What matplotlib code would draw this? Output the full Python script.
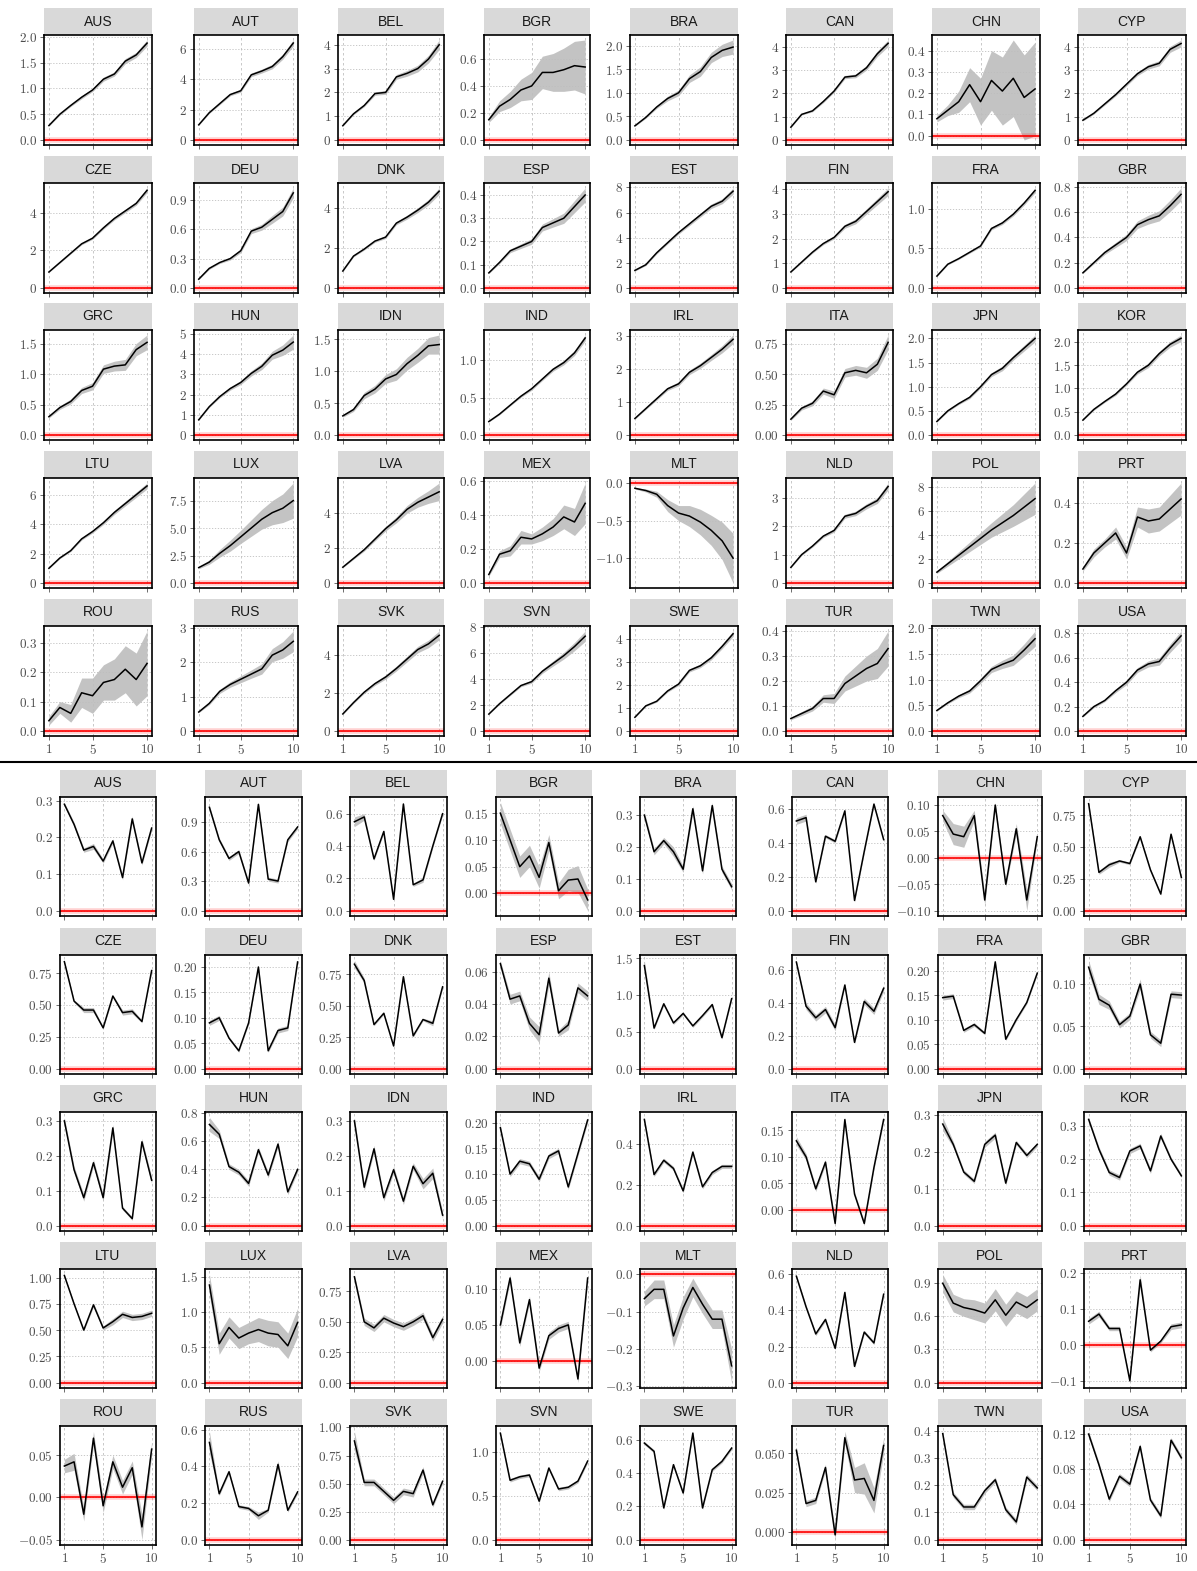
import matplotlib
matplotlib.use("Agg")
import matplotlib.pyplot as plt
import numpy as np
from matplotlib.patches import Rectangle
from matplotlib.lines import Line2D
from matplotlib.ticker import MultipleLocator, FuncFormatter

plt.rcParams['mathtext.fontset'] = 'cm'

countries = ["AUS", "AUT", "BEL", "BGR", "BRA", "CAN", "CHN", "CYP",
             "CZE", "DEU", "DNK", "ESP", "EST", "FIN", "FRA", "GBR",
             "GRC", "HUN", "IDN", "IND", "IRL", "ITA", "JPN", "KOR",
             "LTU", "LUX", "LVA", "MEX", "MLT", "NLD", "POL", "PRT",
             "ROU", "RUS", "SVK", "SVN", "SWE", "TUR", "TWN", "USA"]
horizon = [1, 2, 3, 4, 5, 6, 7, 8, 9, 10]
x_ticks = [1, 5, 10]

# cumulative responses (top block)
cum_mid = [
    [0.28, 0.5, 0.67, 0.83, 0.97, 1.18, 1.28, 1.53, 1.65, 1.88],
    [1.0, 1.8, 2.4, 3.0, 3.25, 4.3, 4.55, 4.85, 5.5, 6.4],
    [0.6, 1.1, 1.45, 1.95, 2.0, 2.65, 2.8, 3.0, 3.4, 4.0],
    [0.15, 0.25, 0.3, 0.37, 0.4, 0.5, 0.5, 0.52, 0.55, 0.54],
    [0.3, 0.48, 0.7, 0.88, 1.0, 1.3, 1.45, 1.75, 1.9, 1.97],
    [0.55, 1.1, 1.25, 1.65, 2.1, 2.7, 2.75, 3.1, 3.7, 4.15],
    [0.08, 0.12, 0.16, 0.24, 0.16, 0.26, 0.21, 0.27, 0.18, 0.22],
    [0.85, 1.15, 1.55, 1.95, 2.4, 2.85, 3.15, 3.3, 3.9, 4.15],
    [0.85, 1.35, 1.85, 2.35, 2.65, 3.2, 3.7, 4.1, 4.5, 5.2],
    [0.09, 0.2, 0.26, 0.3, 0.38, 0.58, 0.62, 0.7, 0.78, 0.97],
    [0.85, 1.6, 1.95, 2.35, 2.55, 3.25, 3.55, 3.9, 4.3, 4.85],
    [0.065, 0.11, 0.16, 0.18, 0.2, 0.26, 0.28, 0.3, 0.35, 0.4],
    [1.4, 1.85, 2.8, 3.6, 4.4, 5.1, 5.8, 6.5, 6.9, 7.7],
    [0.65, 1.05, 1.45, 1.8, 2.05, 2.5, 2.7, 3.1, 3.5, 3.9],
    [0.15, 0.3, 0.37, 0.45, 0.53, 0.75, 0.82, 0.93, 1.07, 1.23],
    [0.12, 0.2, 0.28, 0.34, 0.4, 0.5, 0.54, 0.57, 0.65, 0.74],
    [0.3, 0.45, 0.55, 0.73, 0.8, 1.08, 1.13, 1.15, 1.4, 1.52],
    [0.75, 1.4, 1.9, 2.3, 2.6, 3.05, 3.4, 3.95, 4.2, 4.6],
    [0.3, 0.4, 0.62, 0.72, 0.88, 0.95, 1.12, 1.25, 1.4, 1.42],
    [0.18, 0.28, 0.4, 0.52, 0.62, 0.75, 0.88, 0.97, 1.1, 1.3],
    [0.5, 0.8, 1.1, 1.4, 1.55, 1.9, 2.1, 2.35, 2.6, 2.9],
    [0.13, 0.22, 0.26, 0.36, 0.33, 0.51, 0.53, 0.51, 0.58, 0.76],
    [0.28, 0.5, 0.65, 0.78, 1.0, 1.25, 1.38, 1.6, 1.8, 2.0],
    [0.32, 0.55, 0.72, 0.88, 1.1, 1.35, 1.5, 1.75, 1.95, 2.08],
    [1.0, 1.7, 2.2, 3.0, 3.5, 4.1, 4.8, 5.4, 6.0, 6.6],
    [1.4, 1.9, 2.7, 3.4, 4.2, 5.0, 5.8, 6.4, 6.8, 7.5],
    [0.9, 1.4, 1.9, 2.5, 3.1, 3.6, 4.2, 4.6, 4.9, 5.2],
    [0.05, 0.17, 0.19, 0.27, 0.26, 0.29, 0.33, 0.39, 0.36, 0.47],
    [-0.07, -0.1, -0.15, -0.3, -0.4, -0.44, -0.52, -0.63, -0.77, -1.0],
    [0.55, 1.0, 1.3, 1.65, 1.85, 2.35, 2.45, 2.7, 2.9, 3.4],
    [0.9, 1.6, 2.3, 3.0, 3.7, 4.4, 5.0, 5.6, 6.3, 7.0],
    [0.07, 0.15, 0.2, 0.25, 0.15, 0.33, 0.31, 0.32, 0.37, 0.42],
    [0.035, 0.08, 0.06, 0.13, 0.12, 0.165, 0.175, 0.21, 0.175, 0.23],
    [0.55, 0.8, 1.15, 1.35, 1.5, 1.65, 1.8, 2.2, 2.35, 2.6],
    [0.9, 1.5, 2.05, 2.5, 2.85, 3.3, 3.8, 4.3, 4.6, 5.05],
    [1.3, 2.1, 2.8, 3.5, 3.8, 4.6, 5.2, 5.8, 6.5, 7.3],
    [0.6, 1.1, 1.3, 1.75, 2.05, 2.65, 2.85, 3.2, 3.7, 4.25],
    [0.05, 0.07, 0.09, 0.13, 0.13, 0.19, 0.22, 0.25, 0.27, 0.33],
    [0.4, 0.55, 0.68, 0.78, 0.98, 1.2, 1.3, 1.38, 1.58, 1.8],
    [0.12, 0.2, 0.25, 0.33, 0.4, 0.5, 0.55, 0.57, 0.68, 0.78],
]
cum_hw = [
    [0.01, 0.02, 0.02, 0.03, 0.03, 0.04, 0.04, 0.05, 0.05, 0.06],
    [0.03, 0.05, 0.07, 0.08, 0.1, 0.12, 0.13, 0.15, 0.17, 0.2],
    [0.02, 0.04, 0.05, 0.07, 0.08, 0.1, 0.12, 0.14, 0.16, 0.2],
    [0.02, 0.04, 0.06, 0.08, 0.1, 0.12, 0.14, 0.16, 0.18, 0.2],
    [0.01, 0.02, 0.03, 0.05, 0.06, 0.08, 0.1, 0.11, 0.13, 0.15],
    [0.02, 0.03, 0.04, 0.05, 0.06, 0.07, 0.08, 0.1, 0.12, 0.14],
    [0.015, 0.025, 0.05, 0.08, 0.11, 0.14, 0.16, 0.18, 0.2, 0.22],
    [0.03, 0.04, 0.05, 0.06, 0.07, 0.08, 0.1, 0.11, 0.13, 0.15],
    [0.02, 0.03, 0.04, 0.05, 0.06, 0.07, 0.08, 0.09, 0.1, 0.12],
    [0.005, 0.01, 0.01, 0.015, 0.02, 0.025, 0.03, 0.04, 0.045, 0.05],
    [0.03, 0.04, 0.05, 0.06, 0.07, 0.08, 0.1, 0.12, 0.14, 0.16],
    [0.003, 0.005, 0.008, 0.01, 0.012, 0.015, 0.018, 0.022, 0.026, 0.03],
    [0.05, 0.07, 0.09, 0.1, 0.12, 0.14, 0.16, 0.18, 0.2, 0.25],
    [0.02, 0.03, 0.04, 0.05, 0.06, 0.08, 0.1, 0.11, 0.13, 0.15],
    [0.005, 0.008, 0.01, 0.012, 0.015, 0.018, 0.02, 0.022, 0.025, 0.03],
    [0.005, 0.01, 0.015, 0.02, 0.025, 0.03, 0.035, 0.04, 0.045, 0.05],
    [0.02, 0.03, 0.04, 0.05, 0.06, 0.07, 0.08, 0.09, 0.1, 0.12],
    [0.02, 0.04, 0.06, 0.08, 0.1, 0.13, 0.16, 0.2, 0.26, 0.35],
    [0.02, 0.03, 0.05, 0.06, 0.07, 0.09, 0.1, 0.11, 0.13, 0.15],
    [0.005, 0.01, 0.01, 0.015, 0.02, 0.02, 0.025, 0.03, 0.035, 0.04],
    [0.02, 0.03, 0.04, 0.05, 0.06, 0.07, 0.08, 0.09, 0.11, 0.13],
    [0.01, 0.015, 0.02, 0.025, 0.03, 0.035, 0.04, 0.045, 0.05, 0.06],
    [0.01, 0.02, 0.02, 0.03, 0.03, 0.04, 0.05, 0.05, 0.06, 0.07],
    [0.01, 0.02, 0.02, 0.03, 0.03, 0.04, 0.05, 0.05, 0.06, 0.07],
    [0.03, 0.05, 0.06, 0.08, 0.1, 0.12, 0.14, 0.16, 0.18, 0.2],
    [0.1, 0.2, 0.35, 0.5, 0.6, 0.75, 0.9, 1.1, 1.3, 1.6],
    [0.03, 0.05, 0.08, 0.1, 0.13, 0.17, 0.22, 0.28, 0.36, 0.5],
    [0.01, 0.02, 0.03, 0.04, 0.03, 0.04, 0.05, 0.07, 0.08, 0.12],
    [0.01, 0.02, 0.04, 0.08, 0.1, 0.14, 0.17, 0.2, 0.25, 0.33],
    [0.02, 0.03, 0.04, 0.05, 0.06, 0.07, 0.08, 0.09, 0.1, 0.12],
    [0.1, 0.2, 0.3, 0.4, 0.5, 0.6, 0.75, 0.9, 1.1, 1.3],
    [0.01, 0.02, 0.02, 0.03, 0.03, 0.05, 0.06, 0.06, 0.07, 0.08],
    [0.015, 0.02, 0.03, 0.05, 0.06, 0.06, 0.07, 0.08, 0.09, 0.11],
    [0.02, 0.04, 0.06, 0.08, 0.1, 0.12, 0.15, 0.19, 0.24, 0.3],
    [0.03, 0.05, 0.07, 0.09, 0.11, 0.13, 0.15, 0.17, 0.2, 0.23],
    [0.03, 0.05, 0.07, 0.09, 0.12, 0.16, 0.2, 0.26, 0.32, 0.4],
    [0.02, 0.03, 0.04, 0.05, 0.06, 0.07, 0.08, 0.09, 0.1, 0.12],
    [0.005, 0.008, 0.01, 0.015, 0.02, 0.03, 0.04, 0.05, 0.06, 0.07],
    [0.01, 0.02, 0.03, 0.04, 0.05, 0.06, 0.08, 0.1, 0.12, 0.15],
    [0.005, 0.01, 0.01, 0.015, 0.02, 0.02, 0.025, 0.03, 0.035, 0.04],
]
cum_step = [0.5, 2, 1, 0.2, 0.5, 1, 0.1, 1,
            2, 0.3, 2, 0.1, 2, 1, 0.5, 0.2,
            0.5, 1, 0.5, 0.5, 1, 0.25, 0.5, 0.5,
            2, 2.5, 2, 0.2, 0.5, 1, 2, 0.2,
            0.1, 1, 2, 2, 1, 0.1, 0.5, 0.2]

# per-period responses (bottom block)
irf_mid = [
    [0.29, 0.235, 0.165, 0.175, 0.135, 0.19, 0.09, 0.25, 0.13, 0.225],
    [1.05, 0.72, 0.53, 0.6, 0.28, 1.08, 0.32, 0.3, 0.72, 0.85],
    [0.55, 0.58, 0.32, 0.49, 0.07, 0.66, 0.16, 0.19, 0.4, 0.6],
    [0.15, 0.1, 0.05, 0.07, 0.03, 0.095, 0.005, 0.025, 0.027, -0.012],
    [0.3, 0.185, 0.22, 0.185, 0.13, 0.32, 0.125, 0.33, 0.13, 0.075],
    [0.53, 0.55, 0.17, 0.44, 0.41, 0.59, 0.06, 0.35, 0.63, 0.42],
    [0.08, 0.045, 0.04, 0.08, -0.08, 0.1, -0.05, 0.055, -0.08, 0.04],
    [0.84, 0.3, 0.36, 0.39, 0.37, 0.58, 0.32, 0.13, 0.6, 0.26],
    [0.84, 0.53, 0.46, 0.46, 0.32, 0.57, 0.44, 0.45, 0.37, 0.77],
    [0.09, 0.1, 0.06, 0.035, 0.09, 0.2, 0.035, 0.075, 0.08, 0.21],
    [0.83, 0.7, 0.35, 0.44, 0.18, 0.73, 0.26, 0.39, 0.36, 0.65],
    [0.065, 0.043, 0.045, 0.028, 0.021, 0.056, 0.022, 0.027, 0.05, 0.045],
    [1.4, 0.55, 0.88, 0.62, 0.75, 0.58, 0.72, 0.87, 0.42, 0.95],
    [0.65, 0.38, 0.31, 0.36, 0.25, 0.51, 0.16, 0.41, 0.35, 0.49],
    [0.145, 0.148, 0.078, 0.09, 0.072, 0.218, 0.06, 0.1, 0.135, 0.195],
    [0.12, 0.082, 0.075, 0.052, 0.062, 0.1, 0.04, 0.03, 0.088, 0.087],
    [0.3, 0.16, 0.08, 0.18, 0.08, 0.28, 0.05, 0.02, 0.24, 0.13],
    [0.72, 0.65, 0.42, 0.38, 0.3, 0.54, 0.36, 0.58, 0.24, 0.4],
    [0.3, 0.11, 0.22, 0.08, 0.16, 0.07, 0.17, 0.12, 0.15, 0.03],
    [0.19, 0.1, 0.125, 0.12, 0.09, 0.135, 0.145, 0.075, 0.14, 0.205],
    [0.52, 0.25, 0.32, 0.28, 0.17, 0.36, 0.19, 0.26, 0.29, 0.29],
    [0.13, 0.1, 0.04, 0.09, -0.025, 0.17, 0.03, -0.025, 0.08, 0.17],
    [0.275, 0.22, 0.145, 0.12, 0.22, 0.245, 0.115, 0.225, 0.19, 0.22],
    [0.32, 0.23, 0.16, 0.145, 0.225, 0.24, 0.165, 0.27, 0.2, 0.15],
    [1.02, 0.75, 0.5, 0.74, 0.52, 0.58, 0.65, 0.62, 0.63, 0.66],
    [1.38, 0.55, 0.78, 0.63, 0.7, 0.75, 0.7, 0.68, 0.52, 0.85],
    [0.87, 0.5, 0.45, 0.53, 0.49, 0.46, 0.5, 0.55, 0.37, 0.52],
    [0.05, 0.115, 0.025, 0.085, -0.01, 0.035, 0.045, 0.05, -0.025, 0.115],
    [-0.065, -0.04, -0.04, -0.165, -0.09, -0.035, -0.08, -0.12, -0.12, -0.245],
    [0.59, 0.42, 0.27, 0.35, 0.19, 0.5, 0.09, 0.28, 0.22, 0.49],
    [0.9, 0.72, 0.68, 0.66, 0.63, 0.75, 0.61, 0.73, 0.68, 0.75],
    [0.065, 0.085, 0.045, 0.045, -0.1, 0.18, -0.015, 0.01, 0.05, 0.055],
    [0.037, 0.042, -0.02, 0.07, -0.01, 0.042, 0.012, 0.035, -0.035, 0.057],
    [0.53, 0.25, 0.37, 0.18, 0.17, 0.13, 0.16, 0.41, 0.16, 0.26],
    [0.88, 0.51, 0.51, 0.43, 0.35, 0.43, 0.41, 0.62, 0.31, 0.52],
    [1.22, 0.68, 0.72, 0.74, 0.44, 0.82, 0.58, 0.6, 0.67, 0.9],
    [0.58, 0.53, 0.19, 0.45, 0.28, 0.64, 0.19, 0.42, 0.47, 0.55],
    [0.052, 0.018, 0.02, 0.041, -0.002, 0.06, 0.033, 0.034, 0.02, 0.055],
    [0.39, 0.165, 0.12, 0.12, 0.18, 0.22, 0.11, 0.065, 0.23, 0.19],
    [0.12, 0.085, 0.046, 0.072, 0.063, 0.106, 0.045, 0.027, 0.113, 0.093],
]
irf_hw = [
    [0.005, 0.006, 0.006, 0.008, 0.006, 0.006, 0.006, 0.008, 0.006, 0.006],
    [0.02, 0.02, 0.02, 0.02, 0.02, 0.02, 0.02, 0.02, 0.02, 0.02],
    [0.03, 0.02, 0.01, 0.01, 0.01, 0.01, 0.01, 0.015, 0.01, 0.01],
    [0.02, 0.02, 0.02, 0.02, 0.02, 0.015, 0.015, 0.02, 0.025, 0.02],
    [0.01, 0.01, 0.01, 0.015, 0.01, 0.01, 0.01, 0.01, 0.01, 0.01],
    [0.02, 0.02, 0.01, 0.01, 0.01, 0.01, 0.01, 0.01, 0.01, 0.01],
    [0.01, 0.02, 0.02, 0.01, 0.01, 0.005, 0.005, 0.01, 0.02, 0.005],
    [0.01, 0.015, 0.02, 0.01, 0.01, 0.01, 0.01, 0.01, 0.01, 0.01],
    [0.01, 0.01, 0.02, 0.02, 0.01, 0.01, 0.02, 0.02, 0.01, 0.01],
    [0.005, 0.005, 0.003, 0.003, 0.003, 0.003, 0.003, 0.005, 0.005, 0.003],
    [0.03, 0.02, 0.01, 0.01, 0.01, 0.01, 0.01, 0.01, 0.02, 0.01],
    [0.002, 0.003, 0.003, 0.004, 0.005, 0.004, 0.002, 0.003, 0.003, 0.003],
    [0.07, 0.02, 0.02, 0.02, 0.02, 0.02, 0.02, 0.02, 0.02, 0.02],
    [0.01, 0.02, 0.02, 0.02, 0.02, 0.01, 0.01, 0.02, 0.02, 0.02],
    [0.005, 0.005, 0.004, 0.004, 0.003, 0.003, 0.003, 0.003, 0.003, 0.003],
    [0.008, 0.006, 0.005, 0.004, 0.004, 0.006, 0.004, 0.004, 0.004, 0.004],
    [0.01, 0.01, 0.01, 0.01, 0.01, 0.01, 0.005, 0.005, 0.01, 0.01],
    [0.05, 0.03, 0.02, 0.02, 0.02, 0.02, 0.02, 0.02, 0.02, 0.02],
    [0.01, 0.01, 0.01, 0.01, 0.01, 0.01, 0.01, 0.015, 0.015, 0.01],
    [0.005, 0.005, 0.005, 0.005, 0.005, 0.005, 0.005, 0.005, 0.005, 0.005],
    [0.01, 0.01, 0.01, 0.01, 0.01, 0.01, 0.01, 0.01, 0.01, 0.01],
    [0.008, 0.006, 0.005, 0.005, 0.004, 0.004, 0.004, 0.004, 0.004, 0.004],
    [0.018, 0.008, 0.006, 0.006, 0.008, 0.008, 0.006, 0.006, 0.006, 0.006],
    [0.006, 0.008, 0.008, 0.008, 0.008, 0.008, 0.008, 0.008, 0.006, 0.006],
    [0.01, 0.01, 0.01, 0.02, 0.02, 0.03, 0.03, 0.03, 0.03, 0.03],
    [0.15, 0.15, 0.15, 0.15, 0.15, 0.17, 0.18, 0.18, 0.18, 0.2],
    [0.02, 0.03, 0.03, 0.03, 0.03, 0.03, 0.03, 0.03, 0.03, 0.03],
    [0.005, 0.005, 0.005, 0.005, 0.005, 0.005, 0.005, 0.005, 0.005, 0.005],
    [0.02, 0.025, 0.025, 0.03, 0.03, 0.025, 0.025, 0.025, 0.025, 0.045],
    [0.01, 0.01, 0.01, 0.01, 0.01, 0.01, 0.01, 0.01, 0.01, 0.01],
    [0.08, 0.08, 0.08, 0.09, 0.09, 0.1, 0.1, 0.1, 0.1, 0.1],
    [0.008, 0.008, 0.006, 0.006, 0.005, 0.015, 0.005, 0.005, 0.008, 0.008],
    [0.008, 0.01, 0.008, 0.008, 0.008, 0.008, 0.008, 0.008, 0.015, 0.008],
    [0.06, 0.01, 0.01, 0.01, 0.01, 0.02, 0.01, 0.02, 0.01, 0.01],
    [0.085, 0.03, 0.03, 0.03, 0.03, 0.03, 0.03, 0.03, 0.02, 0.02],
    [0.02, 0.02, 0.02, 0.02, 0.02, 0.02, 0.02, 0.02, 0.02, 0.02],
    [0.01, 0.01, 0.01, 0.01, 0.01, 0.01, 0.01, 0.01, 0.01, 0.01],
    [0.002, 0.002, 0.002, 0.002, 0.003, 0.004, 0.008, 0.01, 0.008, 0.005],
    [0.008, 0.01, 0.01, 0.01, 0.01, 0.01, 0.01, 0.01, 0.01, 0.01],
    [0.003, 0.003, 0.003, 0.003, 0.003, 0.003, 0.003, 0.003, 0.003, 0.003],
]
irf_step = [0.1, 0.3, 0.2, 0.05, 0.1, 0.2, 0.05, 0.25,
            0.25, 0.05, 0.25, 0.02, 0.5, 0.2, 0.05, 0.05,
            0.1, 0.2, 0.1, 0.05, 0.2, 0.05, 0.1, 0.1,
            0.25, 0.5, 0.25, 0.05, 0.1, 0.2, 0.3, 0.1,
            0.05, 0.2, 0.25, 0.5, 0.2, 0.025, 0.1, 0.04]

W, H = 1197, 1571
fig = plt.figure(figsize=(W / 100, H / 100), dpi=100)

# layout in pixels
top_left = [44, 194, 338, 484, 630, 786, 932, 1078]
top_right = [152, 298, 444, 590, 738, 893, 1040, 1186]
top_rows = [35, 183, 330, 478, 626]
top_h = 110
bot_left = [60, 205, 350, 496, 640, 792, 938, 1084]
bot_right = [156, 302, 447, 592, 736, 888, 1042, 1186]
bot_rows = [797, 955, 1112, 1269, 1426]
bot_h = 119
strip_h = 27


def ndec(step):
    s = ('%.6f' % step).rstrip('0').rstrip('.')
    return len(s.split('.')[1]) if '.' in s else 0


def make_fmt(d):
    def f(v, pos):
        if abs(v) < 1e-12:
            v = 0.0
        return r'$%s$' % (('%.' + str(d) + 'f') % v)
    return FuncFormatter(f)


def panel(left, top, width, height, name, mid, hw, step, show_x):
    ax = fig.add_axes([left / W, 1 - (top + height) / H, width / W, height / H])
    mid = np.array(mid)
    hw = np.array(hw)
    lo, hi = mid - hw, mid + hw
    ymin = min(lo.min(), 0)
    ymax = max(hi.max(), 0)
    pad = (ymax - ymin) * 0.05
    ax.set_ylim(ymin - pad, ymax + pad)
    ax.set_xlim(0.55, 10.45)
    ax.fill_between(horizon, lo, hi, color='#bdbdbd', alpha=0.9, lw=0, zorder=2)
    ax.axhline(0, color='#ff0000', lw=4, alpha=0.18, zorder=3)
    ax.axhline(0, color='#ff0000', lw=1.2, zorder=3)
    ax.plot(horizon, mid, color='black', lw=1.1, zorder=4)
    ax.yaxis.set_major_locator(MultipleLocator(step))
    ax.yaxis.set_major_formatter(make_fmt(ndec(step)))
    ax.set_xticks(x_ticks)
    ax.yaxis.grid(True, color='#bfbfbf', lw=0.6, ls=(0, (1.5, 2)), zorder=1)
    ax.xaxis.grid(True, color='#bfbfbf', lw=0.6, ls=(0, (3, 3)), zorder=1)
    ax.tick_params(length=3, width=0.6, color='#555555', labelsize=9.5,
                   labelcolor='#4d4d4d', pad=2)
    if show_x:
        ax.set_xticklabels([r'$%d$' % t for t in x_ticks])
    else:
        ax.set_xticklabels([])
    for sp in ax.spines.values():
        sp.set_linewidth(1.2)
        sp.set_color('black')
        sp.set_zorder(5)
    ax.add_patch(Rectangle((0, 1), 1, strip_h / height, transform=ax.transAxes,
                           facecolor='#d9d9d9', edgecolor='none', clip_on=False))
    ax.text(0.5, 1 + strip_h / height / 2, name, transform=ax.transAxes,
            ha='center', va='center', fontsize=10, color='#1a1a1a',
            family=['Liberation Sans Narrow', 'Liberation Sans', 'DejaVu Sans'])
    return ax


for i, name in enumerate(countries):
    r, c = divmod(i, 8)
    panel(top_left[c], top_rows[r], top_right[c] - top_left[c], top_h,
          name, cum_mid[i], cum_hw[i], cum_step[i], r == 4)
    panel(bot_left[c], bot_rows[r], bot_right[c] - bot_left[c], bot_h,
          name, irf_mid[i], irf_hw[i], irf_step[i], r == 4)

# separator between the two blocks
fig.add_artist(Line2D([0, 1], [1 - 762 / H, 1 - 762 / H], color='black', lw=1.5))

plt.savefig("out.png", dpi=100)
